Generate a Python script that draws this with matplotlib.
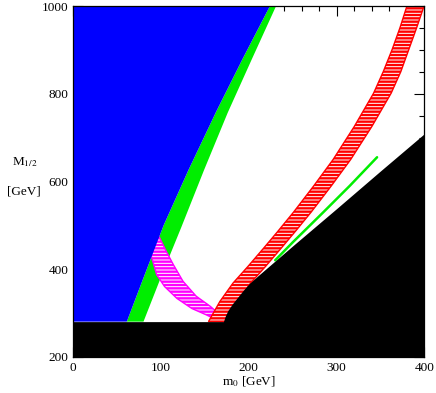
#!/usr/bin/env python3
import matplotlib
matplotlib.use("Agg")
import matplotlib.pyplot as plt
from matplotlib.ticker import MultipleLocator

# region boundaries (m0, M1/2 in GeV)
blue_x = [61, 80, 103, 131, 163, 193, 224]
blue_y = [280, 380, 500, 625, 760, 880, 1000]

green_x = [80, 101, 123, 149, 176, 203, 231]
green_y = [280, 387, 495, 626, 757, 877, 1000]

mag_x = [98, 106, 114, 125, 140, 156, 171, 175, 167, 152, 135, 118, 104, 95, 89, 80]
mag_y = [473, 440, 410, 372, 338, 315, 289, 280, 280, 295, 310, 333, 360, 387, 429, 440]

red_y = [280, 326, 368, 406, 448, 486, 530, 590, 650, 725, 801, 850, 900, 950, 1000]
red_left = [154, 167, 182, 199, 217, 233, 251, 274, 296, 320, 342, 353, 363, 372, 380]
red_right = [174, 187, 202, 219, 237, 253, 271, 294, 316, 340, 362, 373, 382, 391, 399.5]

line_x = [230, 250, 285, 315, 346]
line_y = [420, 461, 530, 590, 655]

black_x = [0, 171, 173, 176, 181, 187, 193, 200, 210, 250, 300, 350, 400]
black_y = [280, 280, 292, 305, 320, 335, 350, 366, 384, 453, 538, 624, 709]

plt.rcParams["font.family"] = ["Liberation Serif", "DejaVu Serif"]
plt.rcParams["mathtext.fontset"] = "stix"
plt.rcParams["hatch.linewidth"] = 1.7

fig = plt.figure(figsize=(4.36, 3.93), dpi=100)
ax = fig.add_axes([0.168, 0.0924, 0.8056, 0.8923])

# green band between blue edge and green edge
ax.fill(blue_x + green_x[::-1], blue_y + green_y[::-1], color="#00ee00", lw=0, zorder=1)
ax.fill(mag_x, mag_y, facecolor="white", edgecolor="#ff00ff", hatch="-----", lw=1.0, zorder=2)
ax.fill([0] + blue_x + [0], [blue_y[0]] + blue_y + [blue_y[-1]], color="#0000ff", lw=0, zorder=3)
ax.fill(red_left + red_right[::-1], red_y + red_y[::-1], facecolor="white", edgecolor="#ff0000",
        hatch="-----", lw=1.0, zorder=4)
ax.plot(line_x, line_y, color="#00ee00", lw=1.8, solid_capstyle="round", zorder=5)
ax.fill_between(black_x, 200, black_y, color="black", lw=0, zorder=6)

ax.set_xlim(0, 400)
ax.set_ylim(200, 1000)
ax.xaxis.set_major_locator(MultipleLocator(100))
ax.xaxis.set_minor_locator(MultipleLocator(20))
ax.yaxis.set_major_locator(MultipleLocator(200))
ax.yaxis.set_minor_locator(MultipleLocator(50))
ax.tick_params(which="both", direction="in", top=True, right=True, labelsize=9.5, width=0.8)
ax.tick_params(which="major", length=7)
ax.tick_params(which="minor", length=3.5)
for s in ax.spines.values():
    s.set_linewidth(0.9)
    s.set_zorder(10)
ax.set_axisbelow(False)

fig.text(0.571, 0.028, r"m$_0$ [GeV]", ha="center", va="center", fontsize=9.5)
fig.text(0.058, 0.588, r"M$_{1/2}$", ha="center", va="center", fontsize=9.5)
fig.text(0.055, 0.513, "[GeV]", ha="center", va="center", fontsize=9.5)

fig.savefig("out.png", dpi=100)
